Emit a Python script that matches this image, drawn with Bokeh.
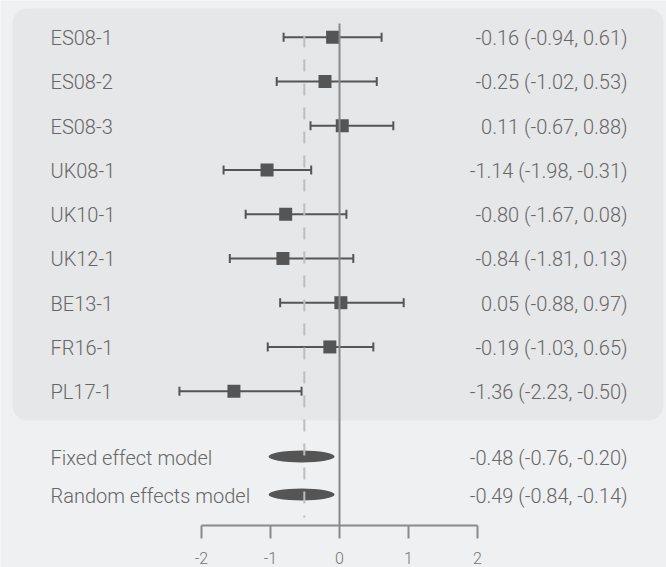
import numpy as np
from bokeh.plotting import figure
from bokeh.models import Range1d, BoxAnnotation, ColumnDataSource
from bokeh.core.properties import value
from bokeh.embed import file_html
from bokeh.resources import INLINE

# ---------------- data ----------------
studies = ["ES08-1", "ES08-2", "ES08-3", "UK08-1", "UK10-1", "UK12-1", "BE13-1", "FR16-1", "PL17-1"]
study_est = [-0.10, -0.21, 0.04, -1.05, -0.78, -0.82, 0.02, -0.14, -1.53]
study_lo = [-0.81, -0.91, -0.42, -1.68, -1.36, -1.59, -0.86, -1.04, -2.32]
study_hi = [0.61, 0.54, 0.78, -0.41, 0.10, 0.20, 0.93, 0.49, -0.55]
study_text = ["-0.16 (-0.94, 0.61)", "-0.25 (-1.02, 0.53)", "0.11 (-0.67, 0.88)",
              "-1.14 (-1.98, -0.31)", "-0.80 (-1.67, 0.08)", "-0.84 (-1.81, 0.13)",
              "0.05 (-0.88, 0.97)", "-0.19 (-1.03, 0.65)", "-1.36 (-2.23, -0.50)"]
models = ["Fixed effect model", "Random effects model"]
model_est = [-0.55, -0.55]
model_text = ["-0.48 (-0.76, -0.20)", "-0.49 (-0.84, -0.14)"]
ref_line = -0.51
ticks = [-2, -1, 0, 1, 2]
tick_labels = ["-2", "-1", "0", "1", "2"]

# ---------------- layout ----------------
W, H = 666, 567
PX = 69.0      # pixels per x unit
X0 = 339.0     # canvas px of x = 0
ROW_PX = 44.25
ROW0 = 36.7

def xd(px):
    return (px - X0) / PX

def yd(py):
    return -(py - ROW0) / ROW_PX

BG = "#eff0f1"
PANEL = "#e6e7e9"
DARK = "#555555"
TXT = "#666666"
FONT = value("'Roboto Light', Roboto")

p = figure(width=W, height=H, output_backend="svg", toolbar_location=None,
           x_range=Range1d(xd(0), xd(W)), y_range=Range1d(yd(H), yd(0)),
           x_axis_type=None, y_axis_type=None, min_border=0,
           background_fill_color=BG, border_fill_color=BG, outline_line_color=None)
p.grid.visible = False

panel = BoxAnnotation(left=xd(12), right=xd(663), top=yd(8), bottom=yd(420),
                      fill_color=PANEL, fill_alpha=1.0, line_color=None,
                      border_radius=15, level="underlay")
p.add_layout(panel)

ys = [-float(i) for i in range(len(studies))]
src = ColumnDataSource(dict(y=ys, est=study_est, lo=study_lo, hi=study_hi,
                            name=studies, txt=study_text))

# error bars
p.segment(x0="lo", x1="hi", y0="y", y1="y", source=src, line_color=DARK, line_width=2)
p.scatter(x="lo", y="y", source=src, marker="dash", angle=np.pi / 2, size=9,
          line_color=DARK, line_width=2)
p.scatter(x="hi", y="y", source=src, marker="dash", angle=np.pi / 2, size=9,
          line_color=DARK, line_width=2)
p.scatter(x="est", y="y", source=src, marker="square", size=13,
          fill_color=DARK, line_color=None)

# summary ellipses
my = [yd(456), yd(494)]
msrc = ColumnDataSource(dict(y=my, est=model_est, name=models, txt=model_text))
p.ellipse(x="est", y="y", width=66, height=12, width_units="screen", height_units="screen",
          source=msrc, fill_color=DARK, line_color=None)

# reference lines
p.segment(x0=[ref_line], x1=[ref_line], y0=[yd(35)], y1=[yd(517)],
          line_color="#bdbdbd", line_width=2, line_dash="12 12")
p.segment(x0=[0], x1=[0], y0=[yd(23)], y1=[yd(525)], line_color="#8a8a8a", line_width=2)

# axis
ax_y = yd(525)
p.segment(x0=[ticks[0]], x1=[ticks[-1]], y0=[ax_y], y1=[ax_y], line_color="#8a8a8a", line_width=2)
p.segment(x0=ticks, x1=ticks, y0=[ax_y] * len(ticks), y1=[yd(538)] * len(ticks),
          line_color="#8a8a8a", line_width=2)
p.text(x=ticks, y=[yd(557)] * len(ticks), text=tick_labels, text_font=FONT,
       text_font_size="16px", text_color="#777777", text_align="center",
       text_baseline="middle")

# texts
for s in (src, msrc):
    p.text(x=xd(50), y="y", text="name", source=s, text_font=FONT, text_font_size="20px",
           text_color=TXT, text_align="left", text_baseline="middle", y_offset=1)
    p.text(x=xd(627), y="y", text="txt", source=s, text_font=FONT, text_font_size="20px",
           text_color=TXT, text_align="right", text_baseline="middle", y_offset=1)

html = file_html(p, INLINE, title="Forest plot")
html = html.replace("<body>", '<body style="background-color:%s;">' % BG, 1)
open("out.html", "w").write(html)
